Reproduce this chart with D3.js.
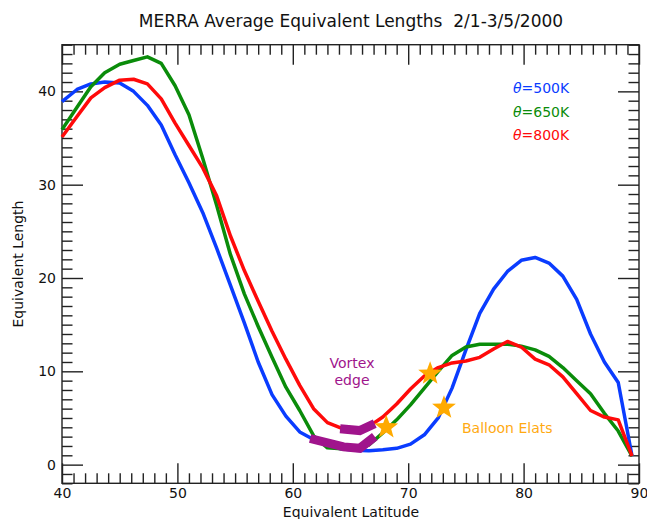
<!DOCTYPE html>
<html>
<head>
<meta charset="utf-8">
<script src="https://cdn.jsdelivr.net/npm/d3@7"></script>
<style>
  html, body { margin: 0; padding: 0; background: #fff; }
  svg text { font-family: "DejaVu Sans", sans-serif; }
</style>
</head>
<body>
<svg id="chart" width="647" height="519"></svg>
<script>
// ---------------- data ----------------
const lats = [40.0, 41.3, 42.5, 43.7, 45.0, 46.2, 47.4, 48.6, 49.8, 51.0,
              52.2, 53.4, 54.6, 55.8, 57.0, 58.2, 59.4, 60.6, 61.8, 63.0,
              64.2, 65.4, 66.6, 67.8, 69.0, 70.2, 71.4, 72.6, 73.8, 75.0,
              76.2, 77.4, 78.6, 79.8, 81.0, 82.2, 83.4, 84.6, 85.8, 87.0,
              88.2, 89.4];
const theta500 = [38.9, 40.2, 40.8, 41.0, 40.9, 40.0, 38.5, 36.4, 33.2, 30.2,
                  27.0, 23.2, 19.2, 15.2, 11.0, 7.5, 5.2, 3.5, 2.7, 2.1,
                  1.7, 1.55, 1.5, 1.6, 1.75, 2.2, 3.2, 5.0, 8.2, 12.3,
                  16.2, 18.8, 20.7, 21.9, 22.2, 21.6, 20.2, 17.7, 14.0, 11.0,
                  8.8, 0.9];
const theta650 = [35.9, 38.3, 40.5, 42.0, 42.9, 43.3, 43.7, 43.0, 40.6, 37.5,
                  32.8, 27.8, 22.5, 18.3, 14.8, 11.5, 8.3, 5.8, 3.1, 1.8,
                  1.7, 1.7, 2.1, 3.4, 4.8, 6.4, 8.2, 10.0, 11.7, 12.6,
                  12.9, 12.9, 12.9, 12.7, 12.3, 11.6, 10.4, 9.0, 7.6, 5.5,
                  3.6, 0.9];
const theta800 = [35.1, 37.3, 39.3, 40.4, 41.2, 41.3, 40.8, 39.2, 36.6, 34.2,
                  31.8, 28.8, 24.5, 20.8, 17.5, 14.3, 11.3, 8.5, 6.0, 4.5,
                  3.9, 3.7, 4.1, 5.1, 6.5, 8.1, 9.5, 10.4, 10.9, 11.1,
                  11.5, 12.4, 13.2, 12.6, 11.3, 10.7, 9.4, 7.6, 5.8, 5.1,
                  4.8, 0.9];
const seriesNames = ["θ=500K", "θ=650K", "θ=800K"];
const seriesColors = ["#0a3cff", "#0a8c0a", "#ff0a0a"];

// vortex-edge highlighted segments [lat, length]
const vortexUpper = [[64.1, 3.85], [65.8, 3.65], [67.1, 4.4]];
const vortexLower = [[61.5, 2.8], [64.4, 1.9], [65.8, 1.75], [67.1, 3.0]];
// balloon equivalent latitudes (stars)
const balloons = [[68.1, 4.0], [71.9, 9.75], [73.1, 6.1]];

const xMajor = [40, 50, 60, 70, 80, 90];
const yMajor = [0, 10, 20, 30, 40];

// ---------------- layout ----------------
const L = 62, R = 639, T = 44.7, B = 483.3;
const svg = d3.select("#chart");
const x = d3.scaleLinear().domain([40, 90]).range([L, R]);
const y = d3.scaleLinear().domain([-2, 45]).range([B, T]);

const xMinor = d3.range(40, 91, 1).filter(v => v % 10 !== 0);
const yMinor = d3.range(-2, 46, 1).filter(v => v % 10 !== 0);

const axisColor = "#222";
function styleAxis(g) {
  g.select(".domain").remove();
  g.selectAll("line").attr("stroke", axisColor).attr("stroke-width", 1.4);
  g.selectAll("text").attr("font-size", 14).attr("fill", "#111")
    .attr("font-family", "DejaVu Sans, sans-serif");
}

// bottom
svg.append("g").attr("transform", `translate(0,${B})`)
  .call(d3.axisBottom(x).tickValues(xMajor).tickSize(-20).tickPadding(5).tickFormat(d3.format("d")))
  .call(styleAxis);
svg.append("g").attr("transform", `translate(0,${B})`)
  .call(d3.axisBottom(x).tickValues(xMinor).tickSize(-10).tickFormat(""))
  .call(styleAxis);
// top
svg.append("g").attr("transform", `translate(0,${T})`)
  .call(d3.axisTop(x).tickValues(xMajor).tickSize(-20).tickFormat(""))
  .call(styleAxis);
svg.append("g").attr("transform", `translate(0,${T})`)
  .call(d3.axisTop(x).tickValues(xMinor).tickSize(-10).tickFormat(""))
  .call(styleAxis);
// left
svg.append("g").attr("transform", `translate(${L},0)`)
  .call(d3.axisLeft(y).tickValues(yMajor).tickSize(-21).tickPadding(6).tickFormat(d3.format("d")))
  .call(styleAxis);
svg.append("g").attr("transform", `translate(${L},0)`)
  .call(d3.axisLeft(y).tickValues(yMinor).tickSize(-10.5).tickFormat(""))
  .call(styleAxis);
// right
svg.append("g").attr("transform", `translate(${R},0)`)
  .call(d3.axisRight(y).tickValues(yMajor).tickSize(-21).tickFormat(""))
  .call(styleAxis);
svg.append("g").attr("transform", `translate(${R},0)`)
  .call(d3.axisRight(y).tickValues(yMinor).tickSize(-10.5).tickFormat(""))
  .call(styleAxis);

// frame
svg.append("rect").attr("x", L).attr("y", T).attr("width", R - L).attr("height", B - T)
  .attr("fill", "none").attr("stroke", axisColor).attr("stroke-width", 1.4);

// ---------------- lines ----------------
const line = d3.line().x(d => x(d[0])).y(d => y(d[1]));
const allSeries = [theta500, theta650, theta800];
allSeries.forEach((vals, i) => {
  svg.append("path")
    .datum(lats.map((la, j) => [la, vals[j]]))
    .attr("d", line)
    .attr("fill", "none")
    .attr("stroke", seriesColors[i])
    .attr("stroke-width", 3.5)
    .attr("stroke-linejoin", "round");
});

// vortex edge segments
[vortexUpper, vortexLower].forEach(seg => {
  svg.append("path").datum(seg).attr("d", line)
    .attr("fill", "none").attr("stroke", "#a0148c")
    .attr("stroke-width", 9).attr("stroke-linecap", "butt")
    .attr("stroke-linejoin", "miter");
});

// stars
function starPath(ro, ri) {
  const pts = [];
  for (let k = 0; k < 10; k++) {
    const r = k % 2 === 0 ? ro : ri;
    const a = -Math.PI / 2 + k * Math.PI / 5;
    pts.push([r * Math.cos(a), r * Math.sin(a)]);
  }
  return "M" + pts.map(p => p[0].toFixed(2) + "," + p[1].toFixed(2)).join("L") + "Z";
}
svg.selectAll(".star").data(balloons).enter().append("path")
  .attr("class", "star")
  .attr("d", starPath(12.5, 5.2))
  .attr("transform", d => `translate(${x(d[0])},${y(d[1])})`)
  .attr("fill", "#ffaa00");

// ---------------- text ----------------
svg.append("text").attr("x", 351).attr("y", 27).attr("text-anchor", "middle")
  .attr("font-size", 17).attr("fill", "#111").attr("xml:space", "preserve")
  .style("white-space", "pre")
  .text("MERRA Average Equivalent Lengths  2/1-3/5/2000");

svg.append("text").attr("x", 351).attr("y", 517).attr("text-anchor", "middle")
  .attr("font-size", 14).attr("fill", "#111").text("Equivalent Latitude");

svg.append("text").attr("transform", "translate(23,264) rotate(-90)")
  .attr("text-anchor", "middle").attr("font-size", 14).attr("fill", "#111")
  .text("Equivalent Length");

// legend
seriesNames.forEach((name, i) => {
  const t = svg.append("text").attr("x", 513).attr("y", 93 + i * 23.5)
    .attr("font-size", 14).attr("fill", seriesColors[i]);
  t.append("tspan").attr("font-style", "italic").text(name.slice(0, 1));
  t.append("tspan").text(name.slice(1));
});

// annotations
svg.append("text").attr("x", 352).attr("y", 368).attr("text-anchor", "middle")
  .attr("font-size", 14).attr("fill", "#a0148c").text("Vortex");
svg.append("text").attr("x", 352).attr("y", 385).attr("text-anchor", "middle")
  .attr("font-size", 14).attr("fill", "#a0148c").text("edge");
svg.append("text").attr("x", 462).attr("y", 433)
  .attr("font-size", 14).attr("fill", "#ffaa11").text("Balloon Elats");
</script>
</body>
</html>
